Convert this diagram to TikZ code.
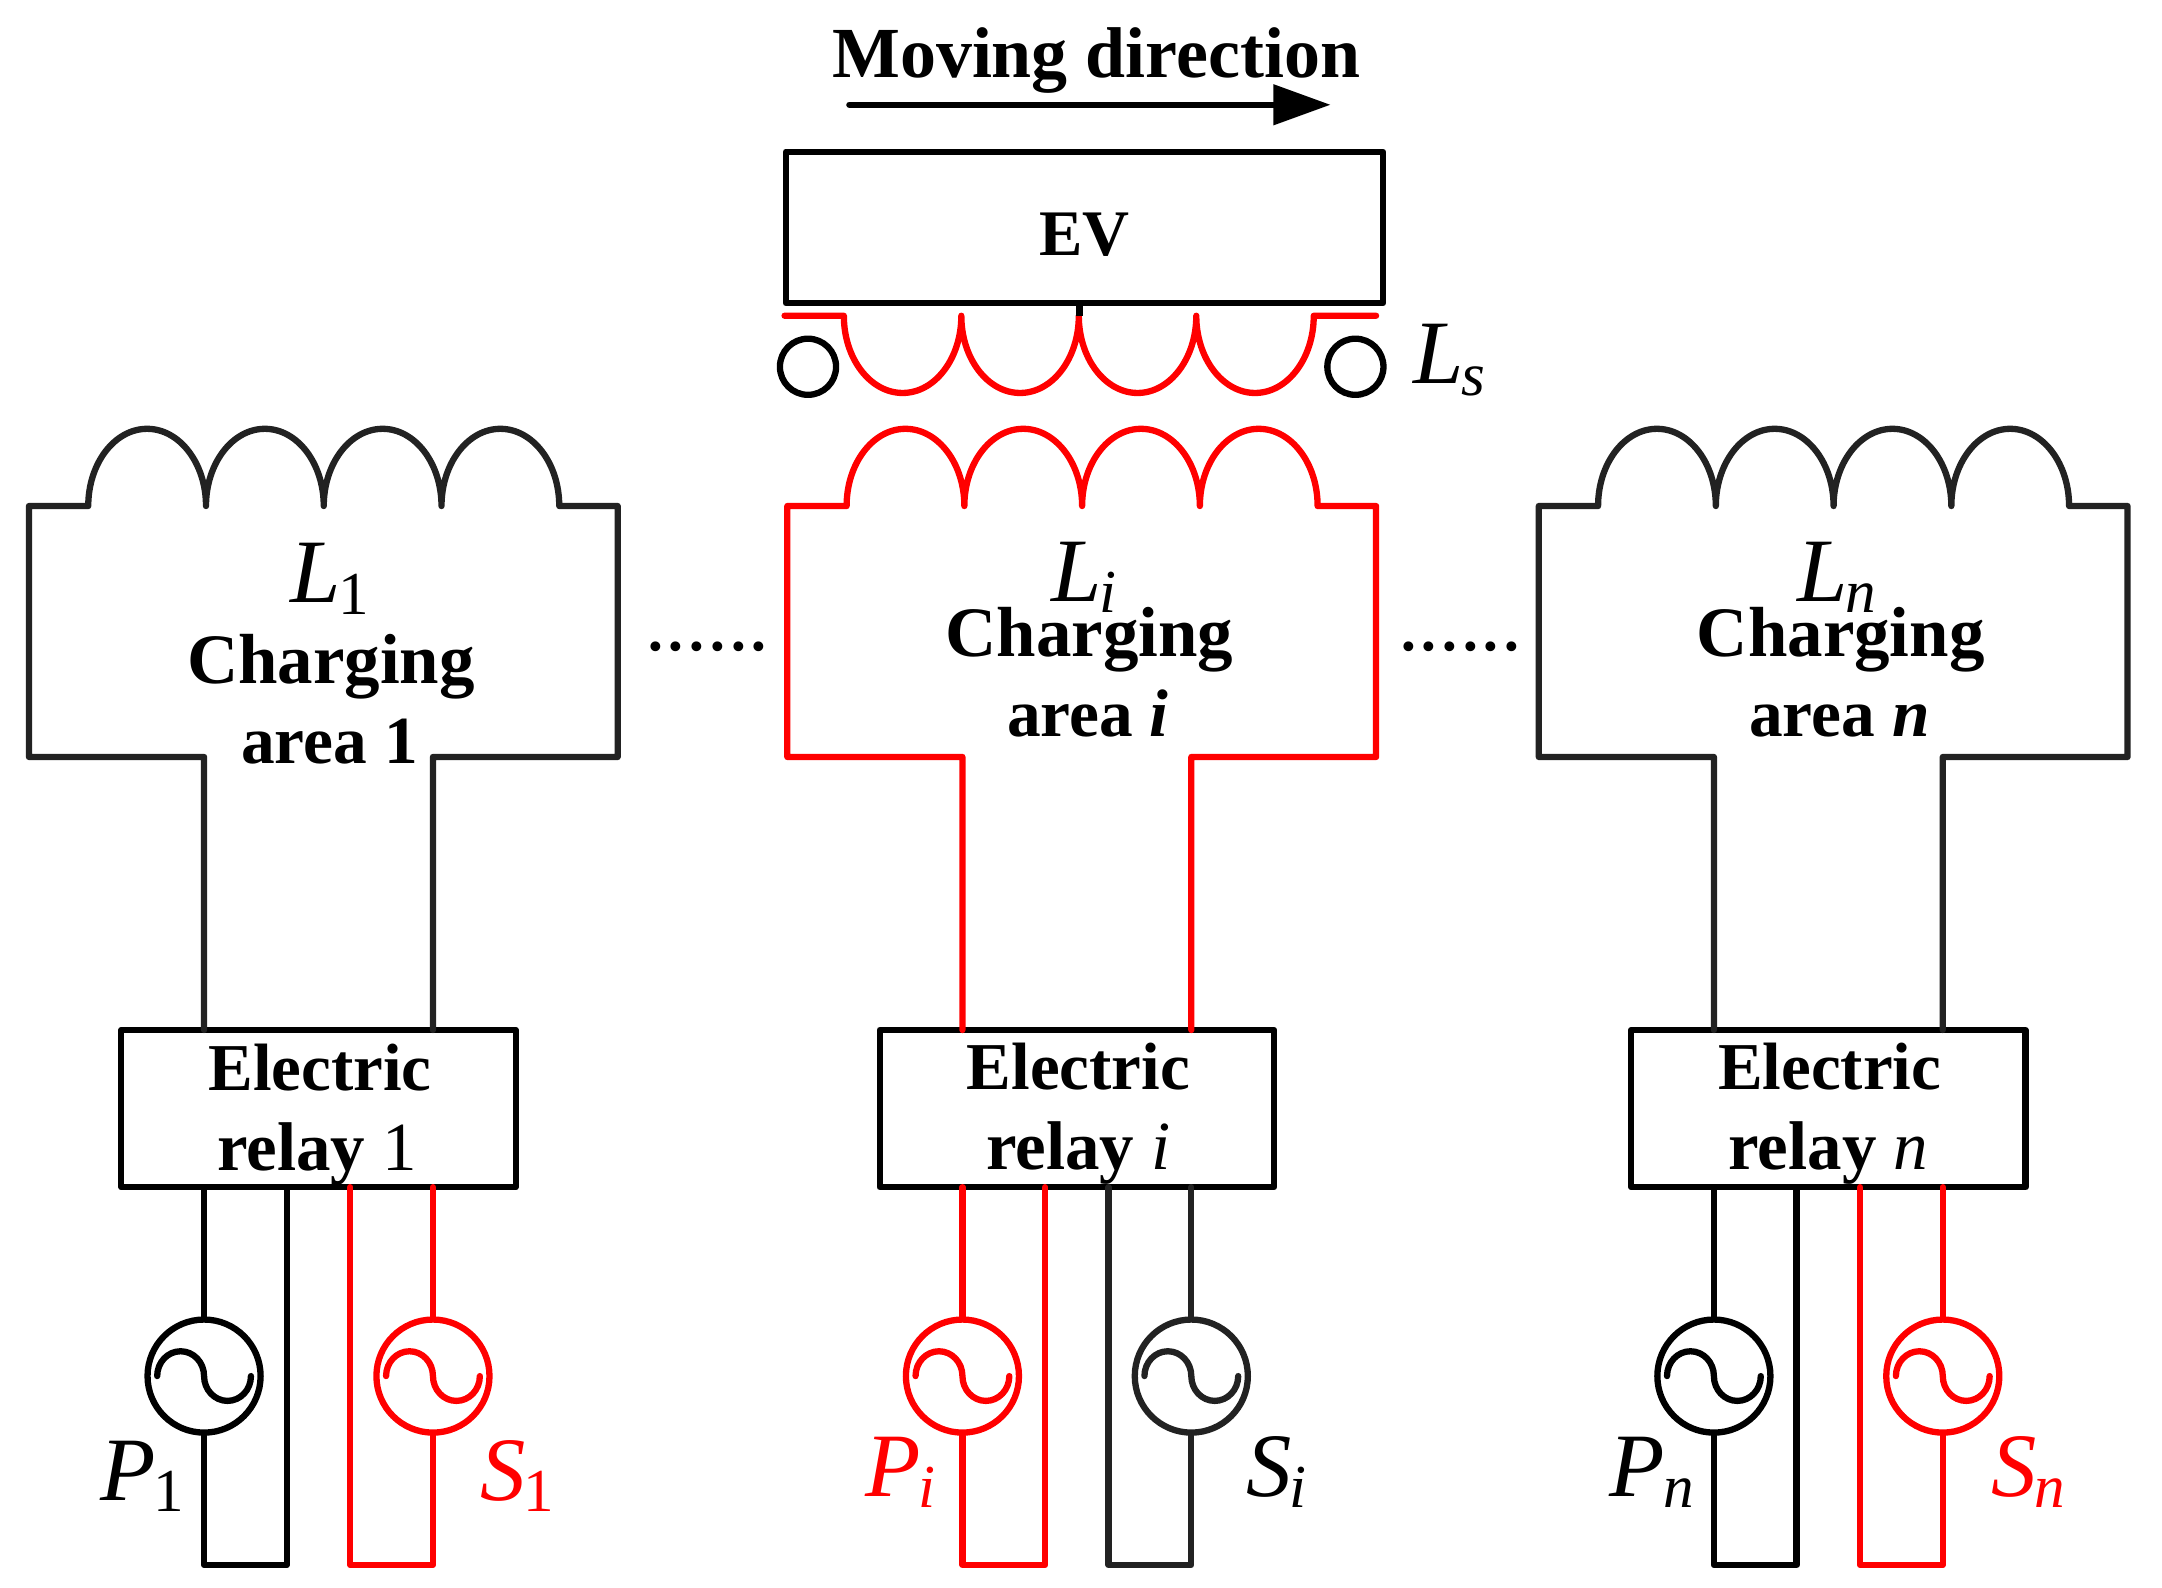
\documentclass[tikz,border=0pt]{standalone}
\usepackage{fontspec}
\setmainfont{Liberation Serif}
\usetikzlibrary{arrows.meta}
\definecolor{wred}{RGB}{255,0,0}
\definecolor{wdark}{RGB}{34,34,34}
\newcommand{\sz}[1]{\fontsize{#1}{#1}\selectfont}
\newcommand{\vlab}[2]{\sz{46}\textit{#1}\hspace{-1pt}\raisebox{-6pt}{\sz{31}#2}}
\newcommand{\chargeunit}[5]{%
  % id, x offset, area colour, P colour, S colour
  \node[relaybox] (#1r) at ({#2+231},804) {};
  \node[srcnode,draw=#4] (#1p) at ({#2+148},998) {};
  \node[srcnode,draw=#5] (#1s) at ({#2+314},998) {};
  \coordinate (#1a) at ({#2+148},747);
  \coordinate (#1b) at ({#2+314},747);
  \coordinate (#1c) at ({#2+148},861);
  \coordinate (#1d) at ({#2+208},861);
  \coordinate (#1e) at ({#2+254},861);
  \coordinate (#1f) at ({#2+314},861);
  \coordinate (#1g) at ({#2+208},1135);
  \coordinate (#1h) at ({#2+254},1135);
  \draw[wire,draw=#3] (#1a) -- ({#2+148},549) -- ({#2+21},549) -- ({#2+21},367) -- ({#2+64},367)
    arc[start angle=180,end angle=360,x radius=42.7,y radius=56]
    arc[start angle=180,end angle=360,x radius=42.7,y radius=56]
    arc[start angle=180,end angle=360,x radius=42.7,y radius=56]
    arc[start angle=180,end angle=360,x radius=42.7,y radius=56]
    -- ({#2+448},367) -- ({#2+448},549) -- ({#2+314},549) -- (#1b);
  \draw[wire,draw=#4] (#1c) -- (#1p.north);
  \draw[wire,draw=#4] (#1p.south) -- ({#2+148},1135) -- (#1g) -- (#1d);
  \draw[wire,draw=#5] (#1f) -- (#1s.north);
  \draw[wire,draw=#5] (#1s.south) -- ({#2+314},1135) -- (#1h) -- (#1e);
  \draw[wire,draw=#4] (#1p.center) ++(-34,0)
    arc[start angle=180,end angle=360,x radius=17,y radius=18]
    arc[start angle=180,end angle=0,x radius=17,y radius=18];
  \draw[wire,draw=#5] (#1s.center) ++(-34,0)
    arc[start angle=180,end angle=360,x radius=17,y radius=18]
    arc[start angle=180,end angle=0,x radius=17,y radius=18];
}
\tikzset{
  x=0.7pt,y=-0.7pt,
  wire/.style={line width=3.2pt,line join=round,line cap=round},
  relaybox/.style={draw=black,line width=3.2pt,line join=round,inner sep=0pt,minimum width=200.2pt,minimum height=79.8pt},
  srcnode/.style={circle,line width=3.2pt,inner sep=0pt,minimum size=57.4pt},
  ringnode/.style={circle,draw=black,line width=3.2pt,inner sep=0pt,minimum size=28.5pt},
  evbox/.style={draw=black,line width=3.2pt,line join=round,inner sep=0pt,minimum width=303.1pt,minimum height=77pt},
  boldtext/.style={anchor=base,inner sep=0pt,font=\sz{36}\bfseries},
  areatext/.style={anchor=base,inner sep=0pt,font=\sz{34.2}\bfseries},
  elecctext/.style={anchor=base,inner sep=0pt,font=\sz{34}\bfseries},
  relaytext/.style={anchor=base,inner sep=0pt,font=\sz{35}\bfseries},
  vartext/.style={anchor=base,inner sep=0pt},
  dotstext/.style={anchor=base,inner sep=0pt,font=\sz{42}}
}
\begin{document}
\begin{tikzpicture}
\useasboundingbox (0,0) rectangle (1568,1151.7);
% moving direction
\node[boldtext,font=\sz{36.5}\bfseries] (mv) at (795,56) {Moving direction};
\coordinate (mva) at (616,76);
\coordinate (mvb) at (965,76);
\draw[wire,-{Triangle[length=29pt,width=20pt]}] (mva) -- (mvb);
% EV and receiver coil
\node[evbox] (ev) at (786.5,165) {\sz{33}\bfseries\raisebox{-14pt}[0pt][0pt]{EV}};
\node[ringnode] (ra) at (586,266) {};
\node[ringnode] (rb) at (983,266) {};
\coordinate (tap) at (783,229);
\coordinate (cl) at (569,229);
\coordinate (cr) at (998,229);
\draw[wire,draw=wred] (cl) -- (612,229)
  arc[start angle=180,end angle=0,x radius=42.6,y radius=56]
  arc[start angle=180,end angle=0,x radius=42.6,y radius=56]
  arc[start angle=180,end angle=0,x radius=42.6,y radius=56]
  arc[start angle=180,end angle=0,x radius=42.6,y radius=56]
  -- (cr);
\draw[line width=3.2pt,draw=black] (ev.south -| tap) -- (tap);
% units
\chargeunit{u}{0}{wdark}{black}{wred}
\chargeunit{v}{550}{wred}{wred}{wdark}
\chargeunit{w}{1095}{wdark}{black}{wred}
% unit 1 texts
\node[vartext] (l1) at (239,437) {\vlab{L}{1}};
\node[boldtext] (c1) at (240,496) {Charging};
\node[areatext] (a1) at (239,554) {area 1};
\node[elecctext] (e1) at (232,791) {Electric};
\node[relaytext] (q1) at (230,849) {relay \textmd{1}};
\node[vartext] (p1) at (103,1088) {\vlab{P}{1}};
\node[vartext,text=wred] (s1) at (375,1088) {\vlab{S}{1}};
% unit i texts
\node[vartext] (l2) at (786,436) {\vlab{L}{\textit{i}}};
\node[boldtext] (c2) at (790,476) {Charging};
\node[areatext] (a2) at (789,534) {area \textit{i}};
\node[elecctext] (e2) at (782,790) {Electric};
\node[relaytext] (q2) at (782,848) {relay \textmd{\textit{i}}};
\node[vartext,text=wred] (p2) at (653,1085) {\vlab{P}{\textit{i}}};
\node[vartext] (s2) at (926,1085) {\vlab{S}{\textit{i}}};
% unit n texts
\node[vartext] (l3) at (1332,436) {\vlab{L}{\textit{n}}};
\node[boldtext] (c3) at (1335,476) {Charging};
\node[areatext] (a3) at (1334,534) {area \textit{n}};
\node[elecctext] (e3) at (1327,790) {Electric};
\node[relaytext] (q3) at (1326,848) {relay \textmd{\textit{n}}};
\node[vartext] (p3) at (1198,1085) {\vlab{P}{\textit{n}}};
\node[vartext,text=wred] (s3) at (1471,1085) {\vlab{S}{\textit{n}}};
% others
\node[vartext] (ls) at (1051,278) {\vlab{L}{\textit{s}}};
\node[dotstext] (d1) at (513,472) {......};
\node[dotstext] (d2) at (1059,472) {......};
\end{tikzpicture}
\end{document}
